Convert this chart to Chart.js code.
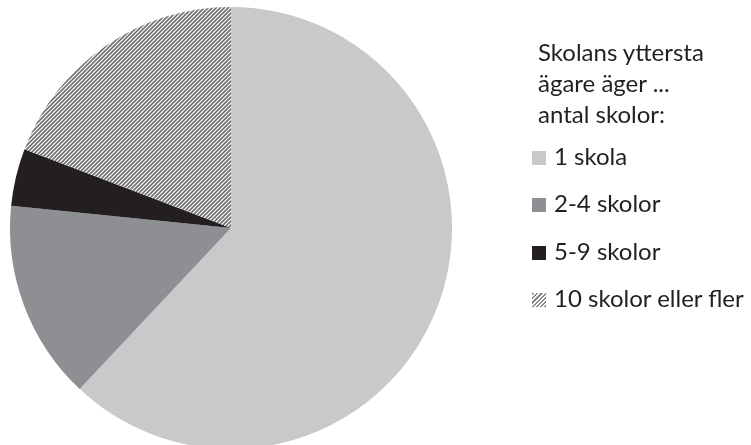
<!DOCTYPE html>
<html>
<head>
<meta charset="utf-8">
<script src="https://cdn.jsdelivr.net/npm/chart.js@4/dist/chart.umd.min.js"></script>
<style>
  html, body { margin: 0; padding: 0; background: #fff; overflow: hidden; }
  #wrap { position: relative; width: 751px; height: 445px; overflow: hidden; }
  #chart { position: absolute; left: 0; top: 0; }
  #legend { position: absolute; left: 538px; top: 36px; font-family: Lato, "Open Sans", sans-serif; font-size: 24px; color: #231f20; }
  #legend .title { line-height: 31px; }
  #legend .item { position: absolute; left: -6px; white-space: nowrap; line-height: 20px; }
  #legend .sw { display: inline-block; width: 14px; height: 14px; margin-right: 8px; vertical-align: 0px; }
</style>
</head>
<body>
<div id="wrap">
  <canvas id="chart"></canvas>
  <div id="legend"></div>
</div>
<script>
// ======= DADOS =======
const titulo = ["Skolans yttersta", "ägare äger ...", "antal skolor:"];
const categorias = ["1 skola", "2-4 skolor", "5-9 skolor", "10 skolor eller fler"];
const valores = [62.0, 14.6, 4.2, 19.2];
const cores = ["#c8c9cb", "#8e8f92", "#231f20", null]; // null = hachurado

// ======= PADRÃO HACHURADO =======
function criarHachura() {
  const c = document.createElement("canvas");
  c.width = 4; c.height = 4;
  const g = c.getContext("2d");
  g.fillStyle = "#ffffff";
  g.fillRect(0, 0, 4, 4);
  g.strokeStyle = "#707073";
  g.lineWidth = 1.6;
  g.beginPath();
  g.moveTo(-1, 5); g.lineTo(5, -1);
  g.moveTo(-1, 1); g.lineTo(1, -1);
  g.moveTo(3, 5); g.lineTo(5, 3);
  g.stroke();
  return g.createPattern(c, "repeat");
}

const canvas = document.getElementById("chart");
canvas.width = 751; canvas.height = 460;
canvas.style.width = "751px"; canvas.style.height = "460px";
const hachura = criarHachura();
const fundo = cores.map(c => c || hachura);

// ======= GRÁFICO =======
new Chart(canvas, {
  type: "pie",
  data: {
    labels: categorias,
    datasets: [{ data: valores, backgroundColor: fundo, borderWidth: 0 }]
  },
  options: {
    responsive: false,
    animation: false,
    layout: { padding: { left: 10, top: 7, right: 299, bottom: 11 } },
    plugins: { legend: { display: false }, tooltip: { enabled: false } }
  }
});

// ======= LEGENDA =======
const legenda = document.getElementById("legend");
legenda.innerHTML = `<div class="title">${titulo.join("<br>")}</div>`;
const topos = [110, 157, 205, 252];
categorias.forEach((nome, i) => {
  const bg = cores[i] ? `background:${cores[i]}` :
    "background:repeating-linear-gradient(-45deg,#8a8a8d 0 1.5px,#fff 1.5px 3px)";
  legenda.innerHTML += `<div class="item" style="top:${topos[i]}px"><span class="sw" style="${bg}"></span>${nome}</div>`;
});
</script>
</body>
</html>
